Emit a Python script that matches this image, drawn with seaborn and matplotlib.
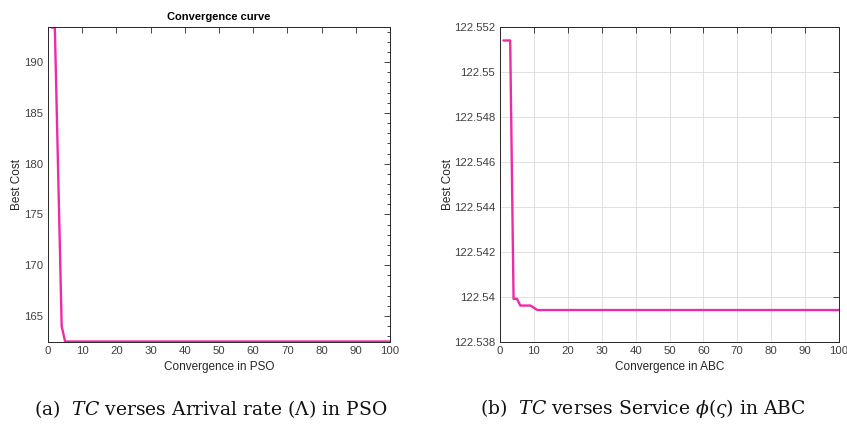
import numpy as np
import pandas as pd
import matplotlib
matplotlib.use("Agg")
import matplotlib.pyplot as plt
import seaborn as sns
from matplotlib.ticker import MultipleLocator, FixedLocator, FixedFormatter

# ---- data ----
pso_iter = [1, 2, 4, 5, 100]
pso_cost = [193.4, 193.4, 164.0, 162.5, 162.5]

abc_iter = [1, 2, 3, 4, 5, 6, 7, 8, 9, 10, 11, 12, 100]
abc_cost = [122.5514, 122.5514, 122.5514, 122.5399, 122.5399, 122.5396, 122.5396,
            122.5396, 122.5396, 122.5395, 122.5394, 122.5394, 122.5394]

x_ticks = [0, 10, 20, 30, 40, 50, 60, 70, 80, 90, 100]
pso_yticks = [165, 170, 175, 180, 185, 190]
abc_yticks = [122.538, 122.540, 122.542, 122.544, 122.546, 122.548, 122.550, 122.552]
abc_ylabels = ["122.538", "122.54", "122.542", "122.544", "122.546", "122.548", "122.55", "122.552"]

caption_a = r"(a)  $\mathit{TC}$ verses Arrival rate ($\Lambda$) in PSO"
caption_b = r"(b)  $\mathit{TC}$ verses Service $\phi(\varsigma)$ in ABC"

sns.set_style("white")
plt.rcParams["font.family"] = ["Liberation Sans", "DejaVu Sans"]
plt.rcParams["mathtext.fontset"] = "dejavuserif"

LINE = "#EE2AA6"
AX = "#262626"
TXT = "#404040"

fig = plt.figure(figsize=(8.47, 4.26), dpi=100)
ax1 = fig.add_axes([48 / 847, 1 - 341.5 / 426, (390 - 48) / 847, (341.5 - 27) / 426])
ax2 = fig.add_axes([500 / 847, 1 - 341.5 / 426, (839 - 500) / 847, (341.5 - 27) / 426])

df1 = pd.DataFrame({"it": pso_iter, "cost": pso_cost})
df2 = pd.DataFrame({"it": abc_iter, "cost": abc_cost})
sns.lineplot(data=df1, x="it", y="cost", ax=ax1, color=LINE, lw=1.7)
sns.lineplot(data=df2, x="it", y="cost", ax=ax2, color=LINE, lw=1.7)

for ax in (ax1, ax2):
    ax.set_xlim(0, 100)
    ax.xaxis.set_major_locator(FixedLocator(x_ticks))
    ax.tick_params(which="both", direction="in", top=True, right=True,
                   labelsize=8.2, colors=AX, labelcolor=TXT, width=0.6)
    ax.tick_params(which="major", length=4)
    ax.tick_params(which="minor", length=2)
    for s in ax.spines.values():
        s.set_color(AX)
        s.set_linewidth(0.7)

ax1.set_ylabel("Best Cost", fontsize=8.5, color=AX, labelpad=1)
ax2.set_ylabel("Best Cost", fontsize=8.5, color=AX, labelpad=0)

ax1.set_ylim(162.5, 193.45)
ax1.yaxis.set_major_locator(FixedLocator(pso_yticks))
ax1.yaxis.set_minor_locator(MultipleLocator(1))
ax1.set_xlabel("Convergence in PSO", fontsize=8.5, color=AX, labelpad=3)
ax1.set_title("Convergence curve", fontsize=8, fontweight="bold", color="black", pad=5)
ax1.grid(False)

ax2.set_ylim(122.538, 122.552)
ax2.yaxis.set_major_locator(FixedLocator(abc_yticks))
ax2.yaxis.set_major_formatter(FixedFormatter(abc_ylabels))
ax2.set_xlabel("Convergence in ABC", fontsize=8.5, color=AX, labelpad=3)
ax2.grid(True, color="#DCDCDC", lw=0.6)
ax2.set_axisbelow(True)

fig.text(211 / 847, 1 - 409 / 426, caption_a, ha="center", va="center",
         fontsize=13.5, family=["DejaVu Serif"], color="#111111")
fig.text(643 / 847, 1 - 409 / 426, caption_b, ha="center", va="center",
         fontsize=13.5, family=["DejaVu Serif"], color="#111111")

fig.savefig("out.png", dpi=100)
